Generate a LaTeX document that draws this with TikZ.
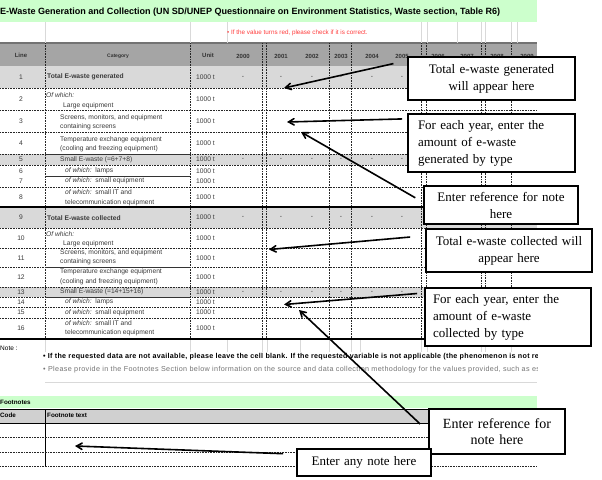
\documentclass[tikz,border=0pt]{standalone}
\usepackage{fontspec}
\setmainfont{Liberation Serif}
\setsansfont{Liberation Sans}
\usetikzlibrary{arrows}
\definecolor{bargreen}{HTML}{CCFFCC}
\definecolor{headgrey}{HTML}{A5A5A5}
\definecolor{rowgrey}{HTML}{D9D9D9}
\definecolor{footgrey}{HTML}{D0D0D0}
\definecolor{cellink}{HTML}{3A3A3A}
\definecolor{warnred}{HTML}{FF3B3B}
\newcommand{\cellfont}{\sffamily\fontsize{6.7}{7}\selectfont}
\tikzset{
  cell/.style={anchor=west,inner sep=0pt,font=\cellfont,text=cellink},
  headcell/.style={inner sep=0pt,font=\sffamily\bfseries\fontsize{6}{7}\selectfont,text=black!80},
  grid/.style={densely dotted,line width=0.6pt,black!85},
  callout/.style={draw,line width=1.8pt,fill=white,inner sep=0pt,
    font=\fontsize{13}{17}\selectfont},
}
\begin{document}
\begin{tikzpicture}[x=1pt,y=-1pt]
\useasboundingbox (0,0) rectangle (602,479);
% bands
\fill[bargreen] (0,0) rectangle (537,22);
\fill[headgrey] (0,43) rectangle (537,66);
\draw[line width=1.4pt,black!55] (0,43) -- (537,43);
\foreach \a/\b in {66/88,154/165,207/228,287/297}
  \fill[rowgrey] (0,\a) rectangle (537,\b);
\fill[bargreen] (0,396) rectangle (537,408);
\fill[footgrey] (0,409) rectangle (537,423);
% grid
\foreach \x in {45,190,227,421,427,457,481,485,511,517}
  \draw[black!15] (\x,22) -- (\x,43);
\foreach \x in {45,190,227,262,267,300,329,351,360,421,427,481,485,511}
  \draw[black!15] (\x,339) -- (\x,352);
\foreach \x in {45,190,262,266,329,351,421,426,481,485,511}
  \draw[grid] (\x,43) -- (\x,339);
\foreach \y in {88,110,132,154,165,187,228,248,267,287,297,307,318}
  \draw[grid] (0,\y) -- (537,\y);
\foreach \y in {154,176,267,297}
  \draw[line width=0.7pt,black!80] (45,\y) -- (190,\y);
\draw[line width=1.2pt] (0,207) -- (537,207) (0,339) -- (537,339);
\draw[black!15] (45,382) -- (537,382);
\draw[line width=0.6pt] (0,409) -- (537,409) (0,423) -- (537,423) (45,409) -- (45,466);
\foreach \y in {437,452,466}
  \draw[grid] (0,\y) -- (537,\y);

% title and header
\node[anchor=west,inner sep=0pt,font=\sffamily\bfseries\fontsize{9.05}{10}\selectfont] (title) at (0,12)
  {E-Waste Generation and Collection (UN SD/UNEP Questionnaire on Environment Statistics, Waste section, Table R6)};
\node[anchor=west,inner sep=0pt,font=\sffamily\fontsize{6.3}{7}\selectfont,text=warnred] (warn) at (227,33)
  {• If the value turns red, please check if it is correct.};
\node[headcell] (hLine) at (21,55) {Line};
\node[headcell,font=\sffamily\bfseries\fontsize{5}{6}\selectfont] (hCat) at (118,56) {Category};
\node[headcell] (hUnit) at (208,55) {Unit};
\foreach \x/\yr in {243/2000,281/2001,312/2002,341/2003,372/2004,402/2005,438/2006,467/2007,497/2008,527/2009}
  \node[headcell] (h\yr) at (\x,56) {\yr};

% rows
\foreach \n/\y in {1/77,2/99,3/121,4/143,5/159.5,6/171,7/181,8/197,9/217.5,10/238,11/258,12/277,13/292,14/302,15/312.5,16/328}{
  \node[cell,anchor=center] (ln\n) at (21,\y) {\n};
  \node[cell] (un\n) at (196,\y) {1000 t};
}
\foreach \r/\y in {a/77,b/159.5,c/217.5,d/292}
  \foreach \x in {243,281,312,341,372,402}
    \node[cell,anchor=center] (d\r\x) at (\x,\y) {-};

\node[cell,font=\cellfont\bfseries] (c1) at (47,77) {Total E-waste generated};
\node[cell,font=\cellfont\itshape] (c2) at (46,95) {Of which:};
\node[cell] (c2b) at (63,106) {Large equipment};
\node[cell] (c3) at (60,118) {Screens, monitors, and equipment};
\node[cell] (c3b) at (60,127) {containing screens};
\node[cell] (c4) at (60,140) {Temperature exchange equipment};
\node[cell] (c4b) at (60,149) {(cooling and freezing equipment)};
\node[cell] (c5) at (60,160) {Small E-waste (=6+7+8)};
\node[cell] (c6) at (65,171) {\textit{of which:}\ \ lamps};
\node[cell] (c7) at (65,181) {\textit{of which:}\ \ small equipment};
\node[cell] (c8) at (65,192) {\textit{of which:}\ \ small IT and};
\node[cell] (c8b) at (65,203) {telecommunication equipment};
\node[cell,font=\cellfont\bfseries] (c9) at (47,218) {Total E-waste collected};
\node[cell,font=\cellfont\itshape] (c10) at (46,234) {Of which:};
\node[cell] (c10b) at (63,244) {Large equipment};
\node[cell] (c11) at (60,253) {Screens, monitors, and equipment};
\node[cell] (c11b) at (60,262) {containing screens};
\node[cell] (c12) at (60,272) {Temperature exchange equipment};
\node[cell] (c12b) at (60,282) {(cooling and freezing equipment)};
\node[cell] (c13) at (60,292) {Small E-waste (=14+15+16)};
\node[cell] (c14) at (65,302) {\textit{of which:}\ \ lamps};
\node[cell] (c15) at (65,313) {\textit{of which:}\ \ small equipment};
\node[cell] (c16) at (65,323) {\textit{of which:}\ \ small IT and};
\node[cell] (c16b) at (65,333) {telecommunication equipment};

% notes and footnotes
\node[cell,text=black,font=\sffamily\fontsize{6.5}{7}\selectfont] (note) at (0,348) {Note :};
\begin{scope}
\clip (0,350) rectangle (537,380);
\node[cell,text=black,font=\sffamily\bfseries\fontsize{7.15}{8}\selectfont\addfontfeature{LetterSpace=4}] (req) at (43,357)
  {• If the requested data are not available, please leave the cell blank. If the requested variable is not applicable (the phenomenon is not relevant)};
\node[cell,text=black!55,font=\sffamily\fontsize{7.2}{8}\selectfont\addfontfeature{LetterSpace=5}] (prov) at (43,370)
  {• Please provide in the Footnotes Section below information on the source and data collection methodology for the values provided, such as estimates};
\end{scope}
\node[cell,text=black,font=\sffamily\bfseries\fontsize{6.3}{7}\selectfont] (foot) at (0,402) {Footnotes};
\node[cell,text=black,font=\sffamily\bfseries\fontsize{6.3}{7}\selectfont] (code) at (0,415) {Code};
\node[cell,text=black,font=\sffamily\bfseries\fontsize{6.3}{7}\selectfont] (ftext) at (47,415) {Footnote text};

% call-outs
\node[callout,minimum width=167pt,minimum height=43pt,text width=150pt,align=center] (genTot) at (491.5,78.5)
  {Total e-waste generated\\will appear here};
\node[callout,minimum width=167pt,minimum height=58pt,text width=147pt,align=left] (genType) at (491.5,143)
  {For each year, enter the\\amount of e-waste\\generated by type};
\node[callout,minimum width=154pt,minimum height=38pt,text width=140pt,align=center] (refNote) at (501,205)
  {Enter reference for note\\here};
\node[callout,minimum width=166pt,minimum height=43pt,text width=152pt,align=center] (colTot) at (509,250.5)
  {Total e-waste collected will\\appear here};
\node[callout,minimum width=166pt,minimum height=58pt,text width=150pt,align=left] (colType) at (508,317)
  {For each year, enter the\\amount of e-waste\\collected by type};
\node[callout,minimum width=136pt,minimum height=45pt,text width=124pt,align=center,font=\fontsize{14}{16.5}\selectfont] (refFoot) at (497,431.5)
  {Enter reference for\\note here};
\node[callout,minimum width=134pt,minimum height=27pt,text width=120pt,align=center] (anyNote) at (364,462.5)
  {Enter any note here};

% arrows
\coordinate (pGenTot) at (284,88);
\coordinate (pGenType) at (287,122);
\coordinate (pRefNote) at (301,132);
\coordinate (pColTot) at (269,249.5);
\coordinate (pColType) at (284,304.5);
\coordinate (pRefFoot) at (299,310);
\coordinate (pAnyNote) at (75,446);
\path[->,line width=1.6pt,>=angle 60]
(genTot.168) edge[shorten <=14pt] (pGenTot)
(genType.164) edge[shorten <=5pt] (pGenType)
(refNote.178) edge[shorten <=9pt] (pRefNote)
(colTot.170) edge[shorten <=15pt] (pColTot)
(colType.164) edge[shorten <=7pt] (pColType)
(refFoot.west) edge[shorten <=11pt] (pRefFoot)
(anyNote.173) edge[shorten <=13pt] (pAnyNote);
\end{tikzpicture}
\end{document}
